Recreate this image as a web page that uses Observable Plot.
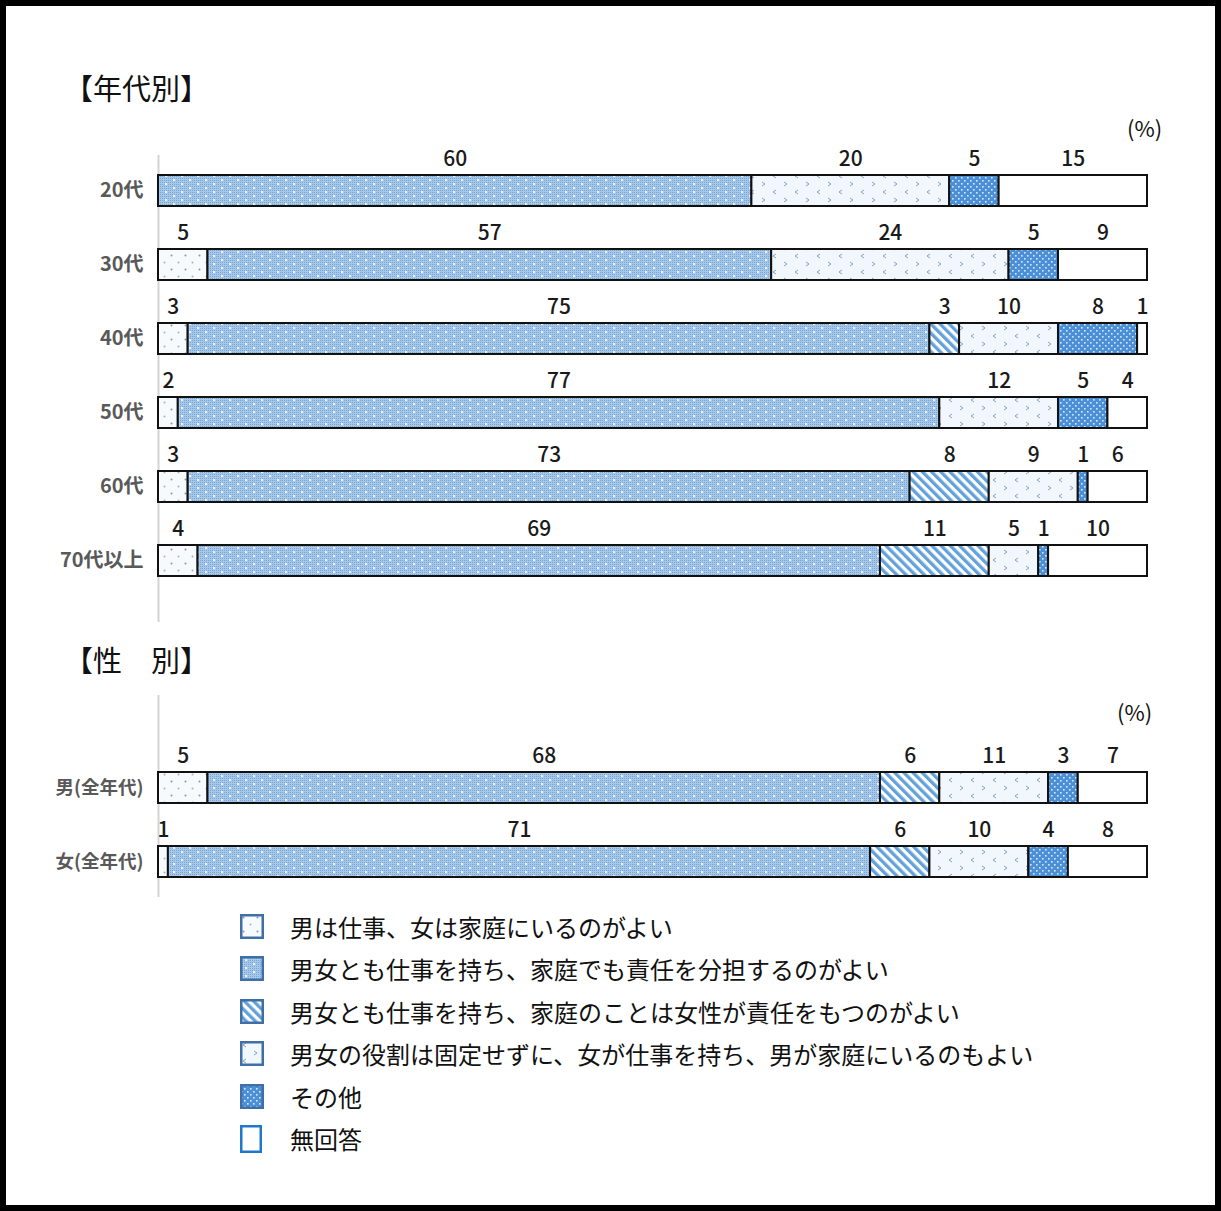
<!DOCTYPE html>
<html lang="ja">
<head>
<meta charset="utf-8">
<script src="https://cdn.jsdelivr.net/npm/d3@7"></script>
<script src="https://cdn.jsdelivr.net/npm/@observablehq/plot@0.6"></script>
<style>
  html, body { margin: 0; padding: 0; background: #fff; }
  body { font-family: "Noto Sans CJK JP", "Noto Sans", sans-serif; }
  #page { position: relative; width: 1221px; height: 1211px; overflow: hidden; background: #fff; }
  #frame { position: absolute; left: 0; top: 0; width: 1221px; height: 1211px; box-sizing: border-box; border: 6px solid #000; pointer-events: none; }
  .heading { position: absolute; left: 64px; font-size: 29px; line-height: 1; color: #111; white-space: nowrap; }
  .unit { position: absolute; font-size: 22px; line-height: 1; color: #111; }
  .chart { position: absolute; left: 0; }
  #legend { position: absolute; left: 240px; top: 905px; }
  .item { display: flex; align-items: center; height: 42.5px; }
  .item svg { flex: none; }
  .item span { font-size: 24px; color: #111; white-space: nowrap; }
</style>
</head>
<body>
<svg width="0" height="0" style="position:absolute">
  <defs>
    <!-- sparse dots on near-white -->
    <pattern id="pat-c1" width="14" height="14" patternUnits="userSpaceOnUse">
      <rect width="14" height="14" fill="#f6fafd"/>
      <circle cx="3.5" cy="3.5" r="1" fill="#8797aa"/>
      <circle cx="10.5" cy="10.5" r="1" fill="#a3b1c2"/>
    </pattern>
    <!-- fine light-blue mesh -->
    <pattern id="pat-c2-base" width="2" height="2" patternUnits="userSpaceOnUse">
      <rect width="2" height="2" fill="#a6c9eb"/>
      <rect width="1" height="1" fill="#7ba4d0"/>
    </pattern>
    <pattern id="pat-c2" width="16" height="8" patternUnits="userSpaceOnUse">
      <rect width="16" height="8" fill="url(#pat-c2-base)"/>
      <rect x="5" y="3" width="2" height="2" fill="#eaf3fc"/>
      <rect x="13" y="7" width="2" height="1" fill="#eaf3fc"/>
      <rect x="13" y="0" width="2" height="1" fill="#eaf3fc"/>
    </pattern>
    <!-- diagonal stripes -->
    <pattern id="pat-c3" width="6.5" height="6.5" patternUnits="userSpaceOnUse" patternTransform="rotate(-45)">
      <rect width="6.5" height="6.5" fill="#ffffff"/>
      <rect width="3.3" height="6.5" fill="#63a1da"/>
    </pattern>
    <!-- small chevrons on pale blue -->
    <pattern id="pat-c4" width="22" height="16" patternUnits="userSpaceOnUse">
      <rect width="22" height="16" fill="#f1f7fd"/>
      <path d="M6 2 L3 4 L6 6" stroke="#8c9fb8" stroke-width="1" fill="none"/>
      <path d="M14 10 L17 12 L14 14" stroke="#8c9fb8" stroke-width="1" fill="none"/>
    </pattern>
    <!-- white dots on medium blue -->
    <pattern id="pat-c5" width="6" height="6" patternUnits="userSpaceOnUse">
      <rect width="6" height="6" fill="#4b8fd6"/>
      <rect x="1" y="1" width="1.6" height="1.6" fill="#d8e8f8"/>
      <rect x="4" y="4" width="1.6" height="1.6" fill="#d8e8f8"/>
    </pattern>
  </defs>
</svg>

<div id="page">
  <div class="heading" style="top:73px;">【年代別】</div>
  <div class="unit" style="left:1127px; top:116px;">(%)</div>
  <div class="chart" id="chart-age" style="top:140px;"></div>
  <div class="heading" style="top:645px;">【性　別】</div>
  <div class="unit" style="left:1117px; top:700px;">(%)</div>
  <div class="chart" id="chart-sex" style="top:680px;"></div>
  <div id="legend"></div>
  <div id="frame"></div>
</div>

<script>
// Response options, in stacking order
const categories = [
  "男は仕事、女は家庭にいるのがよい",
  "男女とも仕事を持ち、家庭でも責任を分担するのがよい",
  "男女とも仕事を持ち、家庭のことは女性が責任をもつのがよい",
  "男女の役割は固定せずに、女が仕事を持ち、男が家庭にいるのもよい",
  "その他",
  "無回答"
];

// Age groups (%), one value per response option
const ageGroups = ["20代", "30代", "40代", "50代", "60代", "70代以上"];
const ageValues = [
  [0, 60, 0, 20, 5, 15],
  [5, 57, 0, 24, 5, 9],
  [3, 75, 3, 10, 8, 1],
  [2, 77, 0, 12, 5, 4],
  [3, 73, 8, 9, 1, 6],
  [4, 69, 11, 5, 1, 10]
];

// By sex (%), one value per response option
const sexGroups = ["男(全年代)", "女(全年代)"];
const sexValues = [
  [5, 68, 6, 11, 3, 7],
  [1, 71, 6, 10, 4, 8]
];

const fills = ["url(#pat-c1)", "url(#pat-c2)", "url(#pat-c3)", "url(#pat-c4)", "url(#pat-c5)", "#ffffff"];
const fontFamily = '"Noto Sans CJK JP", "Noto Sans", sans-serif';

function tidy(groups, values) {
  const rows = [];
  groups.forEach((g, i) => {
    categories.forEach((c, j) => {
      const v = values[i][j];
      if (v > 0) rows.push({group: g, cat: c, value: v});
    });
  });
  return rows;
}

function stackedChart(groups, values, opts) {
  const rows = tidy(groups, values);
  return Plot.plot({
    width: 1221,
    height: opts.height,
    marginLeft: 158,
    marginRight: 74,
    marginTop: opts.marginTop,
    marginBottom: opts.marginBottom,
    style: {fontFamily, fontSize: opts.tickFontSize + "px", fontWeight: "bold", color: "#595959", background: "transparent", overflow: "visible"},
    x: {domain: [0, 100], axis: null},
    y: {
      domain: groups,
      axis: "left",
      label: null,
      tickSize: 0,
      tickPadding: 15,
      paddingInner: opts.paddingInner,
      paddingOuter: opts.paddingOuter,
      align: opts.align
    },
    color: {domain: categories, range: fills},
    marks: [
      Plot.ruleX([0], {stroke: "#d4d4d4", strokeWidth: 2}),
      Plot.barX(rows, Plot.stackX({x: "value", y: "group", fill: "cat", stroke: "#111", strokeWidth: 2})),
      Plot.text(rows, Plot.stackX({
        x: "value", y: "group", text: d => String(d.value),
        dy: -32, fill: "#1a1a1a", fontSize: 21, fontWeight: 500
      }))
    ]
  });
}

document.getElementById("chart-age").append(stackedChart(ageGroups, ageValues, {
  height: 490, marginTop: 15, marginBottom: 8,
  paddingInner: 0.583, paddingOuter: 0.43, align: 0.305, tickFontSize: 20
}));

document.getElementById("chart-sex").append(stackedChart(sexGroups, sexValues, {
  height: 222, marginTop: 15, marginBottom: 5,
  paddingInner: 0.581, paddingOuter: 0.655, align: 0.789, tickFontSize: 18.5
}));

// Legend
const legend = document.getElementById("legend");
categories.forEach((c, i) => {
  const item = document.createElement("div");
  item.className = "item";
  const last = i === categories.length - 1;
  const w = last ? 22 : 24, h = last ? 28 : 25;
  const sw = `<svg width="${w}" height="${h}" viewBox="0 0 ${w} ${h}">
    <rect x="1.25" y="1.25" width="${w - 2.5}" height="${h - 2.5}" fill="${fills[i]}" stroke="${last ? "#1f78c8" : "#3f6fa6"}" stroke-width="2.5"/></svg>`;
  item.innerHTML = sw + `<span style="margin-left:${last ? 28 : 26}px">${c}</span>`;
  legend.append(item);
});
</script>
</body>
</html>
